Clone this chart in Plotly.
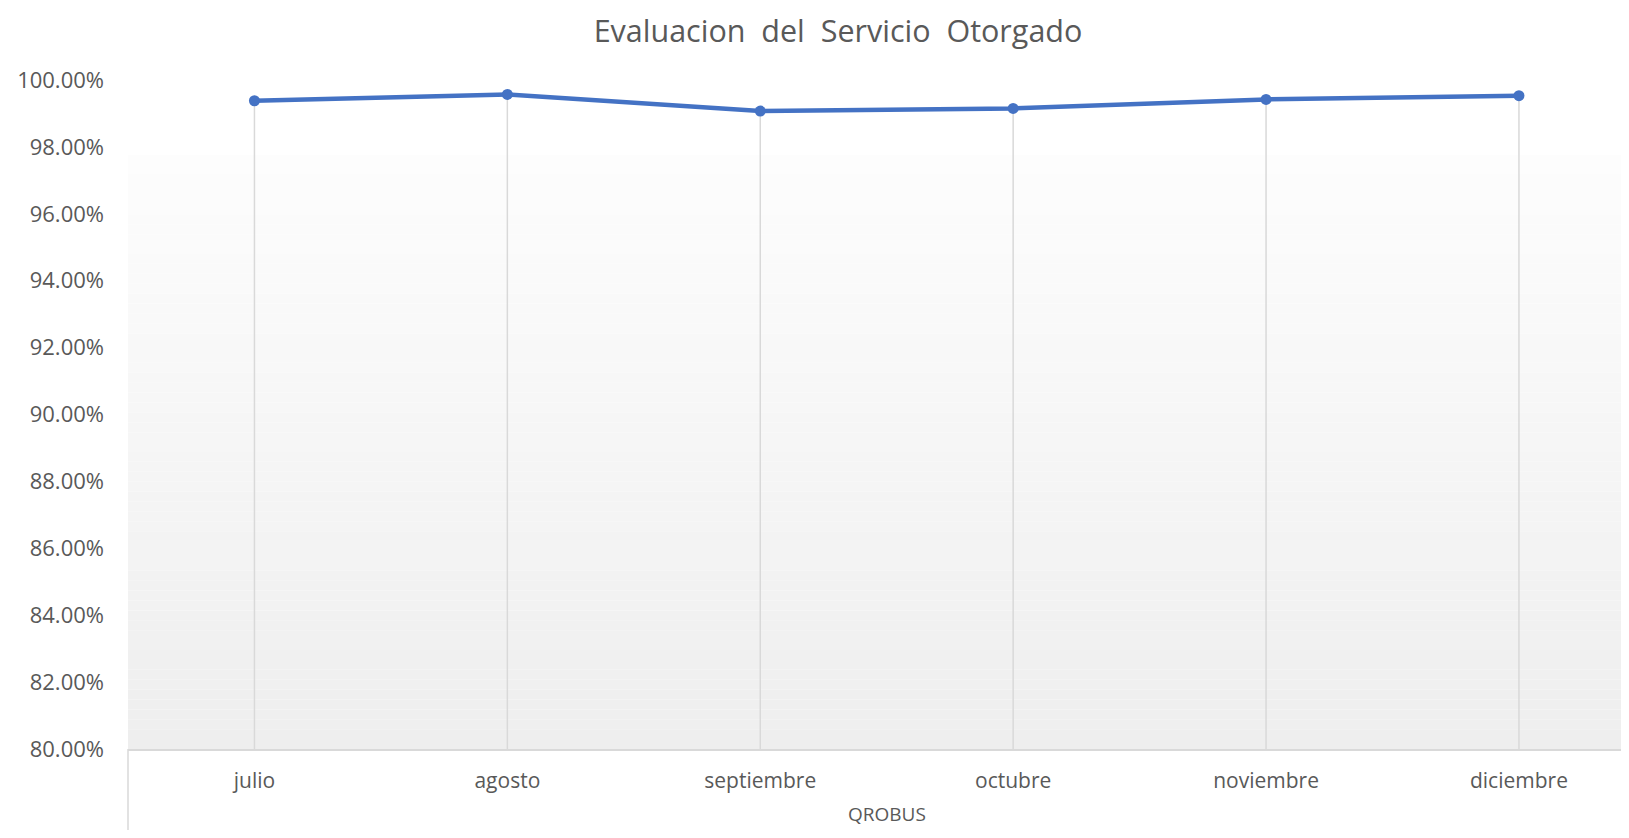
import plotly.graph_objects as go

# Data
group = "QROBUS"
months = ["julio", "agosto", "septiembre", "octubre", "noviembre", "diciembre"]
values = [0.9938, 0.9957, 0.9907, 0.9915, 0.9942, 0.9953]
axis_min = 0.80
tick_vals = [0.80, 0.82, 0.84, 0.86, 0.88, 0.90, 0.92, 0.94, 0.96, 0.98, 1.00]

FONT = "Open Sans"
TXT = "#595959"
LINE = "#4472C4"
GRID = "#d9d9d9"

W, H = 1613, 822
L, T, B = 120, 72, 81
plot_h = H - T - B

fig = go.Figure()

# gradient background (decoration)
n = 60
y_top = 0.888
for i in range(n):
    t = i / (n - 1)
    c = int(round(253 - (253 - 238) * t))
    fig.add_shape(type="rect", xref="paper", yref="paper",
                  x0=0, x1=1,
                  y0=y_top - (i + 1) * y_top / n, y1=y_top - i * y_top / n,
                  fillcolor=f"rgb({c},{c},{c})", line=dict(width=0), layer="below")

# group divider at left of category axis
fig.add_shape(type="line", xref="paper", yref="paper", x0=0, x1=0,
              y0=0, y1=-B / plot_h, line=dict(color=GRID, width=1.5))

fig.add_trace(go.Scatter(
    x=months,
    y=values,
    mode="lines+markers",
    line=dict(color=LINE, width=4.5),
    marker=dict(color=LINE, size=11),
    error_y=dict(type="data", symmetric=False,
                 array=[0] * len(values),
                 arrayminus=[v - axis_min for v in values],
                 color=GRID, thickness=1.5, width=0),
    showlegend=False,
    hoverinfo="y",
))

fig.add_annotation(text=group, xref="x", yref="paper",
                   x=(len(months) - 1) / 2, y=-(B - 16) / plot_h,
                   xanchor="center", yanchor="middle", showarrow=False,
                   font=dict(family=FONT, size=19, color=TXT))

fig.update_layout(
    width=W, height=H,
    margin=dict(l=L, r=0, t=T, b=B, autoexpand=False),
    paper_bgcolor="white", plot_bgcolor="rgba(0,0,0,0)",
    title=dict(text="Evaluacion  del  Servicio  Otorgado", x=(838 - 8) / W, xanchor="center",
               y=1 - 23 / H, yanchor="middle",
               font=dict(family=FONT, size=30.5, color=TXT)),
    font=dict(family=FONT, color=TXT),
)

fig.update_xaxes(
    type="category",
    range=[-0.5, -0.5 + (W - L) / 252.9],
    showgrid=False,
    showline=True, linecolor=GRID, linewidth=2,
    tickfont=dict(family=FONT, size=21, color=TXT),
    ticks="", ticklabelstandoff=12,
)
fig.update_yaxes(
    range=[axis_min, 1.0],
    tickvals=tick_vals,
    tickformat=".2%",
    showgrid=False, zeroline=False, showline=False,
    tickfont=dict(family=FONT, size=22, color=TXT),
    ticks="", ticklabelstandoff=23,
)

fig.write_html("out.html")
